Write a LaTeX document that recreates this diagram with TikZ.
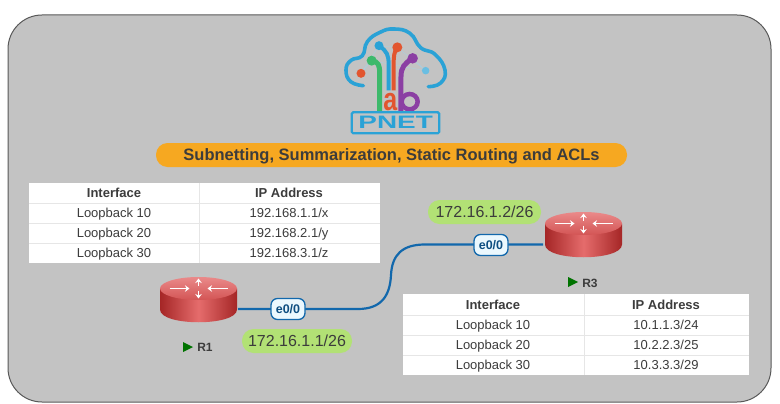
\documentclass[tikz,border=0pt]{standalone}
\usepackage{fontspec}
\setmainfont{Liberation Sans}
\usetikzlibrary{positioning,arrows.meta}
\definecolor{panelgray}{HTML}{C3C3C3}
\definecolor{titleorange}{HTML}{F6A821}
\definecolor{pillgreen}{HTML}{B2E175}
\definecolor{linkblue}{HTML}{1268AC}
\definecolor{logoblue}{HTML}{2AA2D6}
\definecolor{logogreen}{HTML}{3DB96B}
\definecolor{logored}{HTML}{E2552F}
\definecolor{logopurple}{HTML}{8B3FA3}
\definecolor{textgray}{HTML}{3C3C3C}
\definecolor{rowline}{HTML}{E6E6E6}
\definecolor{routerlight}{HTML}{E56C6C}
\definecolor{routermid}{HTML}{CE4242}
\definecolor{routerdark}{HTML}{A52626}
\tikzset{
  celltext/.style={font=\fontsize{13}{15}\selectfont,text=textgray,inner sep=0pt,text height=10.5pt,text depth=1.5pt},
  headtext/.style={celltext,font=\fontsize{13}{15}\selectfont\bfseries},
  ippill/.style={fill=pillgreen,rounded corners=11.5pt,minimum height=24pt,inner sep=0pt,text=textgray,font=\fontsize{16}{18}\selectfont},
  portbox/.style={draw=linkblue,line width=1.3pt,fill=white!92!cyan,rounded corners=6.5pt,minimum width=34pt,minimum height=21pt,inner sep=0pt,text=linkblue!75!black,font=\fontsize{12.5}{14}\selectfont\bfseries},
  routername/.style={inner sep=0pt,text=textgray,font=\fontsize{12}{14}\selectfont\bfseries},
  logodot/.style={circle,inner sep=0pt},
  routerarrow/.style={white,line width=1.4pt,-{Stealth[length=4.5pt,width=6.5pt]}},
}
\def\nicerouter#1{\begin{scope}[shift={(#1)}]
\shade[left color=routerdark,right color=routerdark,middle color=routerlight] (-38.5,0) -- (-38.5,21) .. controls (-38.5,38) and (38.5,38) .. (38.5,21) -- (38.5,0) -- cycle;
\shade[top color=routerlight!80!white,bottom color=routermid!90!white] (0,0) ellipse [x radius=38.5, y radius=11.5];
\draw[routerarrow] (-29,0) -- (-9,0);
\draw[routerarrow] (29,0) -- (9,0);
\draw[routerarrow] (0,-3) -- (0,-10);
\draw[routerarrow] (0,2) -- (0,10);
\end{scope}}
\begin{document}
\begin{tikzpicture}[x=1pt,y=-1pt]
\useasboundingbox (0,0) rectangle (780,404);
\fill[white] (0,0) rectangle (780,404);
\draw[fill=panelgray,draw=black!65,line width=1pt,rounded corners=34pt] (8,15) rectangle (771,402);
% logo
\begin{scope}[shift={(330,15)},x=0.3333pt,y=-0.3333pt]
\draw[logoblue!45,very thin] (93,175) -- (147,92) -- (202,97) -- (287,167) -- (125,137) -- (93,175);
\draw[logoblue!45,very thin] (248,130) -- (287,167);
\draw[logoblue,line width=3.6pt,line cap=round] plot[smooth,tension=0.8] coordinates {(100,212) (62,200) (48,165) (63,136) (97,122) (112,80) (150,52) (192,42) (240,55) (272,98) (315,118) (345,165) (332,204) (295,215)};
\draw[logoblue,line width=4pt] (147,92) .. controls (172,110) and (176,120) .. (176,150) -- (176,226);
\draw[logored,line width=4pt] (202,97) .. controls (192,110) and (191,125) .. (191,150) -- (191,226);
\draw[logogreen,line width=5pt] (125,137) .. controls (145,140) and (149,150) .. (149,175) -- (149,288);
\draw[logopurple,line width=5pt] (248,130) .. controls (225,145) and (213,155) .. (213,185) -- (213,288);
\draw[logopurple,line width=4.5pt] (239,260) ellipse [x radius=24, y radius=23];
\node[logodot,fill=logored,minimum size=9pt] (dotA) at (93,175) {};
\node[logodot,fill=logoblue,minimum size=9pt] (dotB) at (147,92) {};
\node[logodot,fill=logored,minimum size=10pt] (dotC) at (202,97) {};
\node[logodot,fill=logopurple,minimum size=10.5pt] (dotD) at (248,130) {};
\node[logodot,fill=logoblue!70,minimum size=7.5pt] (dotE) at (287,167) {};
\node[logodot,fill=logogreen,minimum size=10pt] (dotF) at (125,137) {};
\node[inner sep=0pt,anchor=base,text=logored,font=\fontsize{32}{32}\selectfont\bfseries,xscale=0.78] (logoa) at (181,288) {a};
\draw[logoblue,line width=2.2pt,rounded corners=1.5pt] (65,292) rectangle (328,355);
\node[inner sep=0pt,text=logoblue,font=\fontsize{18}{18}\selectfont\bfseries,xscale=1.55] (logotext) at (197,323) {PNET};
\end{scope}
% title
\node[fill=titleorange,rounded corners=11.5pt,minimum width=471pt,minimum height=24pt,inner sep=0pt,text=textgray,text height=13pt,text depth=1.6pt,font=\fontsize{16.5}{18}\selectfont\bfseries] (title) at (391.5,155) {Subnetting, Summarization, Static Routing and ACLs};
% left table
\fill[white] (29,183) rectangle (380,263);
\draw[rowline] (29,203) -- (380,203) (29,223) -- (380,223) (29,243) -- (380,243) (199,183) -- (199,263);
\node[headtext] (ifA) at (114,193) {Interface};
\node[headtext] (ipA) at (289,193) {IP Address};
\node[celltext] (ifA1) at (114,213) {Loopback 10};
\node[celltext] (ipA1) at (289,213) {192.168.1.1/x};
\node[celltext] (ifA2) at (114,233) {Loopback 20};
\node[celltext] (ipA2) at (289,233) {192.168.2.1/y};
\node[celltext] (ifA3) at (114,253) {Loopback 30};
\node[celltext] (ipA3) at (289,253) {192.168.3.1/z};
% right table
\fill[white] (403,294) rectangle (749,375);
\draw[rowline] (403,315) -- (749,315) (403,335) -- (749,335) (403,355) -- (749,355) (584,294) -- (584,375);
\node[headtext] (ifB) at (493,304.5) {Interface};
\node[headtext] (ipB) at (666,304.5) {IP Address};
\node[celltext] (ifB1) at (493,325) {Loopback 10};
\node[celltext] (ipB1) at (666,325) {10.1.1.3/24};
\node[celltext] (ifB2) at (493,345) {Loopback 20};
\node[celltext] (ipB2) at (666,345) {10.2.2.3/25};
\node[celltext] (ifB3) at (493,365) {Loopback 30};
\node[celltext] (ipB3) at (666,365) {10.3.3.3/29};
% routers
\nicerouter{198.5,288.5}
\nicerouter{583.5,223.5}
\coordinate (R1) at (238,309);
\coordinate (R3) at (543,244.5);
\draw[linkblue,line width=2.2pt] (R1) -- (358,309) .. controls (382,309) and (390,295) .. (391,275) .. controls (392,255) and (402,244.5) .. (425,244.5) -- (R3);
\node[portbox] (portR1) at (288,309) {e0/0};
\node[portbox] (portR3) at (491,245) {e0/0};
\node[ippill,minimum width=110pt] (ipR1) at (297,341) {172.16.1.1/26};
\node[ippill,minimum width=113pt] (ipR3) at (484.5,212) {172.16.1.2/26};
\node[routername] (nameR1) at (205,347) {R1};
\node[routername] (nameR3) at (590,283) {R3};
\fill[green!45!black] (183,342) -- (193,347) -- (183,352) -- cycle;
\fill[green!45!black] (568,277) -- (578,282) -- (568,287) -- cycle;
\end{tikzpicture}
\end{document}
